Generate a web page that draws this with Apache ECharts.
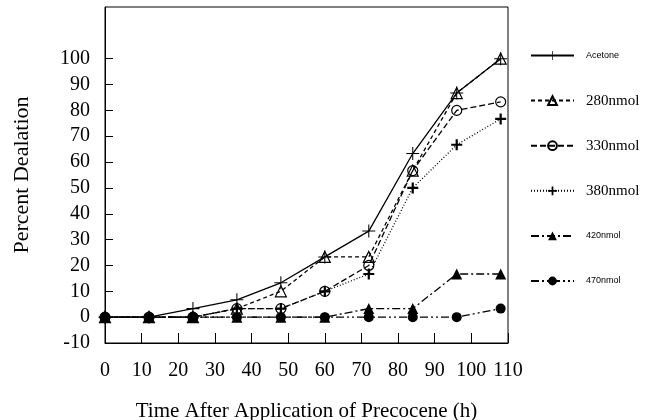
<!DOCTYPE html>
<html><head><meta charset="utf-8">
<script src="https://cdn.jsdelivr.net/npm/echarts@6/dist/echarts.min.js"></script>
<style>html,body{margin:0;padding:0;background:#fff}#c{width:654px;height:420px}</style>
</head><body><div id="c"></div>
<script>
var hours = [0, 12, 24, 36, 48, 60, 72, 84, 96, 108];
var seriesNames = ['Acetone', '280nmol', '330nmol', '380nmol', '420nmol', '470nmol'];
var acetone = [0, 0, 3.3, 6.7, 13.3, 23.3, 33.3, 63.3, 86.7, 100];
var nmol280 = [0, 0, 0, 3.3, 10, 23.3, 23.3, 56.7, 86.7, 100];
var nmol330 = [0, 0, 0, 3.3, 3.3, 10, 20, 56.7, 80, 83.3];
var nmol380 = [0, 0, 0, 3.3, 3.3, 10, 16.7, 50, 66.7, 76.7];
var nmol420 = [0, 0, 0, 0, 0, 0, 3.3, 3.3, 16.7, 16.7];
var nmol470 = [0, 0, 0, 0, 0, 0, 0, 0, 0, 3.3];
var yTickValues = [0, 10, 20, 30, 40, 50, 60, 70, 80, 90, 100];
var yLabelValues = [-10, 0, 10, 20, 30, 40, 50, 60, 70, 80, 90, 100];

var thinPlus = 'path://M4.6,0h0.8v4.6h4.6v0.8h-4.6v4.6h-0.8v-4.6h-4.6v-0.8h4.6z';
var boldPlus = 'path://M4,0h2v4h4v2h-4v4h-2v-4h-4v-2h4z';
var serif = '"Liberation Serif", "Times New Roman", serif';
var sans = '"Liberation Sans", Arial, sans-serif';

function pts(arr) { return hours.map(function (h, i) { return [h, arr[i]]; }); }

var styles = [
  { data: acetone, symbol: thinPlus, size: 13, dash: 'solid', fill: '#000', border: 0, z: 6 },
  { data: nmol280, symbol: 'triangle', size: 11, dash: [4, 3], fill: 'rgba(255,255,255,0)', border: 1.2, z: 5 },
  { data: nmol330, symbol: 'circle', size: 10, dash: [6, 3], fill: 'rgba(255,255,255,0)', border: 1.2, z: 4 },
  { data: nmol380, symbol: boldPlus, size: 11, dash: [1, 2], fill: '#000', border: 0, z: 7 },
  { data: nmol420, symbol: 'triangle', size: 11, dash: [8, 3, 2, 3], fill: '#000', border: 0, z: 3 },
  { data: nmol470, symbol: 'circle', size: 10, dash: [8, 3, 2, 3, 2, 3], fill: '#000', border: 0, z: 2 }
];

var series = styles.map(function (s, i) {
  return {
    name: seriesNames[i], type: 'line', data: pts(s.data),
    symbol: s.symbol, symbolSize: s.size, showAllSymbol: true,
    lineStyle: { color: '#000', width: 1.3, type: s.dash },
    itemStyle: { color: s.fill, borderColor: '#000', borderWidth: s.border, opacity: 1 },
    z: s.z, animation: false
  };
});

var legendFonts = [
  { fontFamily: sans, fontSize: 9 },
  { fontFamily: serif, fontSize: 15 },
  { fontFamily: serif, fontSize: 15 },
  { fontFamily: serif, fontSize: 15 },
  { fontFamily: sans, fontSize: 9 },
  { fontFamily: sans, fontSize: 9 }
];

var chart = echarts.init(document.getElementById('c'), null, { renderer: 'canvas' });
chart.setOption({
  animation: false,
  backgroundColor: '#fff',
  grid: { left: 105, top: 7, right: 146, bottom: 77, show: true, borderColor: '#000', borderWidth: 1, outerBoundsMode: 'none', containLabel: false },
  legend: {
    orient: 'vertical', left: 530, top: 47, padding: 0, itemGap: 28.1, itemWidth: 43, itemHeight: 11,
    selectedMode: false,
    data: seriesNames.map(function (n, i) {
      return { name: n, textStyle: { color: '#000', fontFamily: legendFonts[i].fontFamily, fontSize: legendFonts[i].fontSize, lineHeight: 14, height: 14 } };
    }),
    textStyle: { color: '#000', padding: [3, 0, 0, 7] }
  },
  xAxis: {
    type: 'value', min: 0, max: 110, interval: 10,
    name: 'Time After Application of Precocene (h)', nameLocation: 'middle', nameGap: 58,
    nameTextStyle: { color: '#000', fontFamily: serif, fontSize: 21 },
    axisLine: { onZero: false, lineStyle: { color: '#000', width: 1 } },
    axisTick: { inside: true, length: 10, lineStyle: { color: '#000' } },
    axisLabel: { color: '#000', fontFamily: serif, fontSize: 20, margin: 18 },
    splitLine: { show: false }
  },
  yAxis: {
    type: 'value', min: -10, max: 120, interval: 10,
    name: 'Percent Dealation', nameLocation: 'middle', nameGap: 72,
    nameTextStyle: { color: '#000', fontFamily: serif, fontSize: 22 },
    axisLine: { lineStyle: { color: '#000', width: 1 } },
    axisTick: { inside: true, length: 8, customValues: yTickValues, lineStyle: { color: '#000' } },
    axisLabel: { color: '#000', fontFamily: serif, fontSize: 20, margin: 15, padding: [5, 0, 0, 0], customValues: yLabelValues },
    splitLine: { show: false }
  },
  series: series
});
</script>
</body></html>
